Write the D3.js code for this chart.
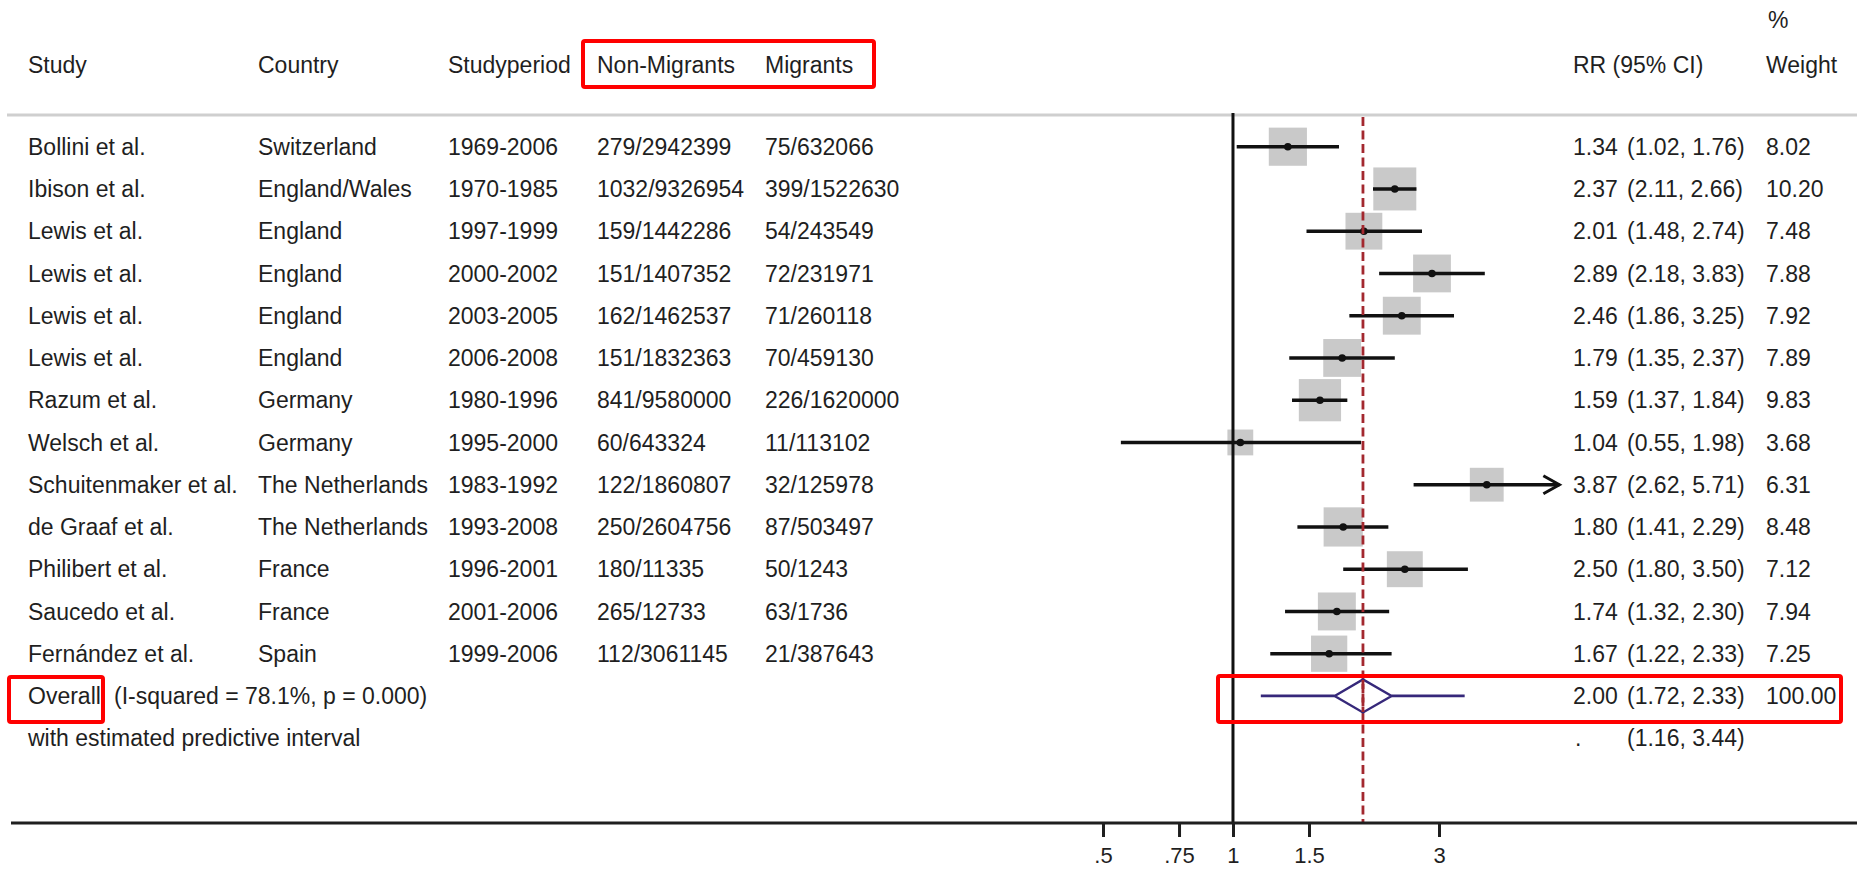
<!DOCTYPE html>
<html>
<head>
<meta charset="utf-8">
<script src="https://cdn.jsdelivr.net/npm/d3@7"></script>
<style>
  html, body { margin: 0; padding: 0; background: #fff; }
  svg { display: block; }
  text { font-family: "Liberation Sans", Arial, Helvetica, sans-serif; fill: #1f1f1f; }
</style>
</head>
<body>
<svg id="chart" width="1857" height="870"></svg>
<script>
// ---------- data ----------
const studies = ["Bollini et al.", "Ibison et al.", "Lewis et al.", "Lewis et al.", "Lewis et al.", "Lewis et al.",
  "Razum et al.", "Welsch et al.", "Schuitenmaker et al.", "de Graaf et al.", "Philibert et al.", "Saucedo et al.", "Fernández et al."];
const countries = ["Switzerland", "England/Wales", "England", "England", "England", "England",
  "Germany", "Germany", "The Netherlands", "The Netherlands", "France", "France", "Spain"];
const periods = ["1969-2006", "1970-1985", "1997-1999", "2000-2002", "2003-2005", "2006-2008",
  "1980-1996", "1995-2000", "1983-1992", "1993-2008", "1996-2001", "2001-2006", "1999-2006"];
const nonMigrants = ["279/2942399", "1032/9326954", "159/1442286", "151/1407352", "162/1462537", "151/1832363",
  "841/9580000", "60/643324", "122/1860807", "250/2604756", "180/11335", "265/12733", "112/3061145"];
const migrants = ["75/632066", "399/1522630", "54/243549", "72/231971", "71/260118", "70/459130",
  "226/1620000", "11/113102", "32/125978", "87/503497", "50/1243", "63/1736", "21/387643"];
const rr = [1.34, 2.37, 2.01, 2.89, 2.46, 1.79, 1.59, 1.04, 3.87, 1.80, 2.50, 1.74, 1.67];
const lower = [1.02, 2.11, 1.48, 2.18, 1.86, 1.35, 1.37, 0.55, 2.62, 1.41, 1.80, 1.32, 1.22];
const upper = [1.76, 2.66, 2.74, 3.83, 3.25, 2.37, 1.84, 1.98, 5.71, 2.29, 3.50, 2.30, 2.33];
const weights = [8.02, 10.20, 7.48, 7.88, 7.92, 7.89, 9.83, 3.68, 6.31, 8.48, 7.12, 7.94, 7.25];
const overall = [2.00, 1.72, 2.33];           // estimate, lower, upper
const overallWeight = [100.00];
const predictive = [1.16, 3.44];
const heterogeneity = ["Overall", "(I-squared = 78.1%, p = 0.000)"];
const predictiveLabel = ["with estimated predictive interval"];
const headers = ["Study", "Country", "Studyperiod", "Non-Migrants", "Migrants", "RR (95% CI)", "Weight"];
const tickValues = [0.5, 0.75, 1, 1.5, 3];
const tickLabels = [".5", ".75", "1", "1.5", "3"];
const xLimit = [5.7];

// ---------- layout ----------
const svg = d3.select("#chart");
const FS = 23;
const x = d3.scaleLog().domain([0.5, 3]).range([1103, 1439]);
const nRows = studies.length;
const y = d3.scaleLinear().domain([0, nRows + 1]).range([146.7, 738.2]);
const size = d3.scaleSqrt().domain([0, 10.2]).range([0, 43]);
const fmt = d3.format(".2f");
const cols = [28, 258, 448, 597, 765];
const colRR = 1573, colCI = 1627, colW = 1766;
const axisY = 823;
const topY = 113;

// header
const hdr = svg.append("g");
hdr.selectAll("text.h").data(headers.slice(0, 5)).join("text")
  .attr("class", "h").attr("x", (d, i) => cols[i]).attr("y", 65).attr("dy", "0.35em")
  .attr("font-size", FS).text(d => d);
hdr.append("text").attr("x", colRR).attr("y", 65).attr("dy", "0.35em").attr("font-size", FS).text(headers[5]);
hdr.append("text").attr("x", colW).attr("y", 65).attr("dy", "0.35em").attr("font-size", FS).text(headers[6]);
hdr.append("text").attr("x", colW + 2).attr("y", 20).attr("dy", "0.35em").attr("font-size", FS).text("%");

// separator
svg.append("line").attr("x1", 7).attr("x2", 1857).attr("y1", 115).attr("y2", 115)
  .attr("stroke", "#cfcfcf").attr("stroke-width", 3);

// table rows
const rows = svg.append("g").selectAll("g").data(studies.map((s, i) => i)).join("g")
  .attr("transform", i => `translate(0,${y(i)})`);
const colData = [studies, countries, periods, nonMigrants, migrants];
colData.forEach((arr, c) => {
  rows.append("text").attr("x", cols[c]).attr("dy", "0.35em").attr("font-size", FS).text(i => arr[i]);
});
rows.append("text").attr("x", colRR).attr("dy", "0.35em").attr("font-size", FS).text(i => fmt(rr[i]));
rows.append("text").attr("x", colCI).attr("dy", "0.35em").attr("font-size", FS)
  .text(i => `(${fmt(lower[i])}, ${fmt(upper[i])})`);
rows.append("text").attr("x", colW).attr("dy", "0.35em").attr("font-size", FS).text(i => fmt(weights[i]));

// overall row text
const yo = y(nRows), yp = y(nRows + 1);
svg.append("text").attr("x", 28).attr("y", yo).attr("dy", "0.35em").attr("font-size", FS).text(heterogeneity[0]);
svg.append("text").attr("x", 114).attr("y", yo).attr("dy", "0.35em").attr("font-size", FS).text(heterogeneity[1]);
svg.append("text").attr("x", colRR).attr("y", yo).attr("dy", "0.35em").attr("font-size", FS).text(fmt(overall[0]));
svg.append("text").attr("x", colCI).attr("y", yo).attr("dy", "0.35em").attr("font-size", FS)
  .text(`(${fmt(overall[1])}, ${fmt(overall[2])})`);
svg.append("text").attr("x", colW).attr("y", yo).attr("dy", "0.35em").attr("font-size", FS).text(fmt(overallWeight[0]));
svg.append("text").attr("x", 28).attr("y", yp).attr("dy", "0.35em").attr("font-size", FS).text(predictiveLabel[0]);
svg.append("text").attr("x", colRR + 2).attr("y", yp).attr("dy", "0.35em").attr("font-size", FS).text(".");
svg.append("text").attr("x", colCI).attr("y", yp).attr("dy", "0.35em").attr("font-size", FS)
  .text(`(${fmt(predictive[0])}, ${fmt(predictive[1])})`);

// plot: boxes
const plot = svg.append("g");
plot.selectAll("rect.box").data(studies.map((s, i) => i)).join("rect")
  .attr("class", "box")
  .attr("x", i => x(rr[i]) - size(weights[i]) / 2)
  .attr("y", i => y(i) - size(weights[i]) / 2)
  .attr("width", i => size(weights[i]))
  .attr("height", i => size(weights[i]))
  .attr("fill", "#c9c9c9");

// null line
plot.append("line").attr("x1", x(1)).attr("x2", x(1)).attr("y1", topY).attr("y2", axisY)
  .attr("stroke", "#111").attr("stroke-width", 3);

// CI lines
const lim = xLimit[0];
plot.selectAll("line.ci").data(studies.map((s, i) => i)).join("line")
  .attr("class", "ci")
  .attr("x1", i => x(lower[i])).attr("x2", i => x(Math.min(upper[i], lim)))
  .attr("y1", i => y(i)).attr("y2", i => y(i))
  .attr("stroke", "#111").attr("stroke-width", 3.6);
// arrows where CI exceeds limit
plot.selectAll("path.arrow").data(studies.map((s, i) => i).filter(i => upper[i] > lim)).join("path")
  .attr("class", "arrow")
  .attr("d", i => { const tx = x(lim), ty = y(i); return `M${tx - 16},${ty - 9} L${tx},${ty} L${tx - 16},${ty + 9}`; })
  .attr("fill", "none").attr("stroke", "#111").attr("stroke-width", 3);

// point estimates
plot.selectAll("circle.pt").data(studies.map((s, i) => i)).join("circle")
  .attr("class", "pt").attr("cx", i => x(rr[i])).attr("cy", i => y(i)).attr("r", 3.8).attr("fill", "#111");

// overall dashed line
plot.append("line").attr("x1", x(overall[0])).attr("x2", x(overall[0])).attr("y1", 117).attr("y2", axisY)
  .attr("stroke", "#a3282f").attr("stroke-width", 2.8).attr("stroke-dasharray", "9,4.5");

// predictive interval + diamond
const purple = "#36287a";
plot.append("line").attr("x1", x(predictive[0])).attr("x2", x(overall[1])).attr("y1", yo).attr("y2", yo)
  .attr("stroke", purple).attr("stroke-width", 2.8);
plot.append("line").attr("x1", x(overall[2])).attr("x2", x(predictive[1])).attr("y1", yo).attr("y2", yo)
  .attr("stroke", purple).attr("stroke-width", 2.8);
plot.append("path")
  .attr("d", `M${x(overall[1])},${yo} L${x(overall[0])},${yo - 16.5} L${x(overall[2])},${yo} L${x(overall[0])},${yo + 16.5} Z`)
  .attr("fill", "none").attr("stroke", purple).attr("stroke-width", 2.4);
plot.append("line").attr("x1", x(overall[0])).attr("x2", x(overall[0])).attr("y1", yo - 16).attr("y2", yo + 16)
  .attr("stroke", "#a3282f").attr("stroke-width", 2.8).attr("stroke-dasharray", "9,4.5");

// axis
svg.append("line").attr("x1", 11).attr("x2", 1857).attr("y1", axisY).attr("y2", axisY)
  .attr("stroke", "#1f1f1f").attr("stroke-width", 3);
const axis = d3.axisBottom(x).tickValues(tickValues)
  .tickFormat((d, i) => tickLabels[i]).tickSize(14).tickPadding(10);
const ag = svg.append("g").attr("transform", `translate(0,${axisY})`).call(axis);
ag.select(".domain").remove();
ag.selectAll(".tick line").attr("stroke", "#1f1f1f").attr("stroke-width", 3);
ag.selectAll(".tick text").attr("font-size", 22).attr("fill", "#1f1f1f")
  .attr("font-family", "'Liberation Sans', Arial, sans-serif");

// red highlight boxes
const hl = [[583, 41, 291, 46], [9, 677, 94, 45], [1218, 676, 623, 46]];
svg.append("g").selectAll("rect").data(hl).join("rect")
  .attr("x", d => d[0]).attr("y", d => d[1]).attr("width", d => d[2]).attr("height", d => d[3])
  .attr("rx", 2).attr("fill", "none").attr("stroke", "#ff0000").attr("stroke-width", 4);
</script>
</body>
</html>
